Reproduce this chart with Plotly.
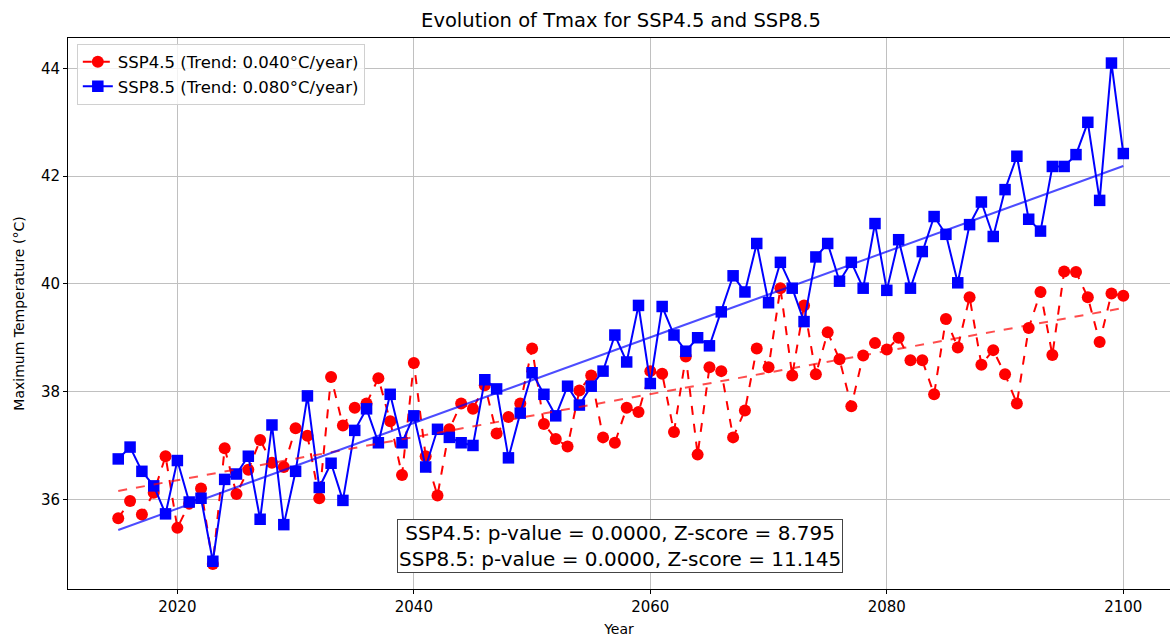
import numpy as np
import plotly.graph_objects as go

# ----------------------------
# Datos
# ----------------------------
years = list(range(2015, 2101))

tmax_ssp45 = [
    35.65, 35.97, 35.72, 36.12, 36.80, 35.47, 35.92, 36.20, 34.80, 36.95,
    36.10, 36.55, 37.10, 36.68, 36.60, 37.32, 37.18, 36.02, 38.27, 37.37,
    37.70, 37.78, 38.25, 37.45, 36.45, 38.53, 36.80, 36.07, 37.30, 37.78,
    37.68, 38.12, 37.22, 37.53, 37.78, 38.80, 37.40, 37.12, 36.98, 38.02,
    38.30, 37.15, 37.05, 37.70, 37.62, 38.38, 38.33, 37.25, 38.65, 36.83,
    38.45, 38.38, 37.15, 37.65, 38.80, 38.45, 39.92, 38.30, 39.60, 38.32,
    39.10, 38.60, 37.73, 38.67, 38.90, 38.78, 39.00, 38.58, 38.58, 37.95,
    39.35, 38.82, 39.75, 38.50, 38.77, 38.32, 37.78, 39.18, 39.85, 38.68,
    40.23, 40.22, 39.75, 38.92, 39.82, 39.78,
]

tmax_ssp85 = [
    36.75, 36.97, 36.52, 36.25, 35.73, 36.72, 35.95, 36.02, 34.85, 36.37,
    36.47, 36.80, 35.63, 37.38, 35.53, 36.52, 37.92, 36.22, 36.67, 35.98,
    37.28, 37.68, 37.05, 37.95, 37.05, 37.55, 36.60, 37.30, 37.15, 37.05,
    37.00, 38.22, 38.05, 36.77, 37.60, 38.35, 37.95, 37.55, 38.10, 37.75,
    38.10, 38.38, 39.05, 38.55, 39.60, 38.15, 39.58, 39.05, 38.75, 39.00,
    38.85, 39.48, 40.15, 39.85, 40.75, 39.65, 40.40, 39.92, 39.30, 40.50,
    40.75, 40.05, 40.40, 39.92, 41.12, 39.88, 40.82, 39.92, 40.60, 41.25,
    40.92, 40.02, 41.10, 41.52, 40.88, 41.75, 42.37, 41.20, 40.98, 42.18,
    42.18, 42.40, 43.00, 41.55, 44.10, 42.42,
]

trend_45 = 0.040
trend_85 = 0.080
stats_text = ("SSP4.5: p-value = 0.0000, Z-score = 8.795<br>"
              "SSP8.5: p-value = 0.0000, Z-score = 11.145")

# ----------------------------
# Tendencias lineales
# ----------------------------
x = np.array(years, dtype=float)
fit45 = np.polyval(np.polyfit(x, tmax_ssp45, 1), x)
fit85 = np.polyval(np.polyfit(x, tmax_ssp85, 1), x)

FONT = "DejaVu Sans"

fig = go.Figure()

fig.add_trace(go.Scatter(
    x=years, y=tmax_ssp45, mode="lines+markers",
    name=f"SSP4.5 (Trend: {trend_45:.3f}°C/year)",
    line=dict(color="red", width=2, dash="dash"),
    marker=dict(symbol="circle", size=12, color="red"),
))
fig.add_trace(go.Scatter(
    x=years, y=tmax_ssp85, mode="lines+markers",
    name=f"SSP8.5 (Trend: {trend_85:.3f}°C/year)",
    line=dict(color="blue", width=2),
    marker=dict(symbol="square", size=11.5, color="blue"),
))
fig.add_trace(go.Scatter(
    x=years, y=fit45, mode="lines", showlegend=False, hoverinfo="skip",
    line=dict(color="rgba(255,0,0,0.7)", width=2, dash="dash"),
))
fig.add_trace(go.Scatter(
    x=years, y=fit85, mode="lines", showlegend=False, hoverinfo="skip",
    line=dict(color="rgba(0,0,255,0.7)", width=2),
))

fig.add_annotation(
    x=2057.45, y=35.14, xref="x", yref="y",
    text=stats_text, showarrow=False,
    font=dict(family=FONT, size=20, color="black"),
    bgcolor="white", bordercolor="#444444", borderwidth=1, borderpad=1,
    xanchor="center", yanchor="middle",
)

fig.update_layout(
    width=1170, height=637,
    margin=dict(l=68, r=0, t=38, b=48, autoexpand=False),
    paper_bgcolor="white", plot_bgcolor="white",
    font=dict(family=FONT, size=15, color="black"),
    title=dict(text="Evolution of Tmax for SSP4.5 and SSP8.5",
               x=621 / 1170, xanchor="center", y=1 - 20 / 637, yanchor="middle",
               font=dict(family=FONT, size=19.5)),
    legend=dict(x=0.008, y=0.99, xanchor="left", yanchor="top",
                bgcolor="rgba(255,255,255,0.8)", bordercolor="#d0d0d0", borderwidth=1,
                font=dict(family=FONT, size=16.5), tracegroupgap=0),
    showlegend=True,
)

fig.update_xaxes(
    range=[2010.75, 2103.95], tickvals=[2020, 2040, 2060, 2080, 2100],
    showgrid=True, gridcolor="#c0c0c0", gridwidth=1,
    showline=True, linecolor="black", linewidth=1, mirror=True,
    ticks="outside", ticklen=4, tickcolor="black", zeroline=False,
    automargin=False, tickfont=dict(size=15),
    title=dict(text="Year", font=dict(family=FONT, size=14), standoff=9),
)
fig.update_yaxes(
    range=[34.335, 44.565], tickvals=[36, 38, 40, 42, 44],
    showgrid=True, gridcolor="#c0c0c0", gridwidth=1,
    showline=True, linecolor="black", linewidth=1,
    ticks="outside", ticklen=4, tickcolor="black", zeroline=False,
    automargin=False, tickfont=dict(size=15),
    title=dict(text="Maximum Temperature (°C)", font=dict(family=FONT, size=14), standoff=13),
)

# sin margen del body para que la figura ocupe toda la ventana
fig.write_html("out.html", config={"displayModeBar": False},
               post_script="document.body.style.margin='0';")
